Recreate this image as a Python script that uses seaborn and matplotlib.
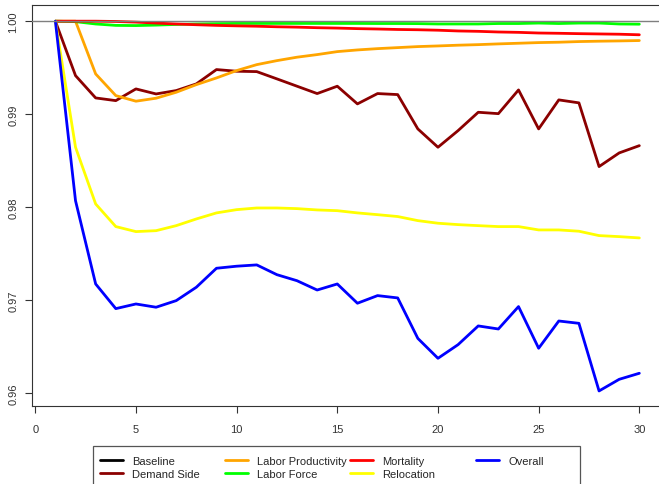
import matplotlib
matplotlib.use("Agg")
import matplotlib.pyplot as plt
import seaborn as sns
import pandas as pd
from matplotlib.lines import Line2D
from matplotlib.patches import Rectangle

# Simulation years
years = list(range(1, 31))

baseline = [1.0] * 30

demand_side = [1.0, 0.99415, 0.99175, 0.99146, 0.99272, 0.99218, 0.99254, 0.99326,
               0.9948, 0.99462, 0.99458, 0.9938, 0.99301, 0.99222, 0.99301, 0.99111,
               0.99222, 0.99211, 0.98842, 0.98645, 0.98824, 0.99021, 0.99006, 0.99261,
               0.98842, 0.99154, 0.99122, 0.98437, 0.98584, 0.98662]

labor_productivity = [1.0, 1.0, 0.99433, 0.992, 0.9914, 0.99172, 0.99236, 0.99318,
                      0.9939, 0.99469, 0.99533, 0.99576, 0.99613, 0.99641, 0.99673,
                      0.99691, 0.99705, 0.99716, 0.99727, 0.99734, 0.99742, 0.99748,
                      0.99756, 0.99763, 0.9977, 0.99774, 0.99781, 0.99785, 0.99788,
                      0.99792]

labor_force = [1.0, 0.99995, 0.9997, 0.99955, 0.99953, 0.99958, 0.99965, 0.9997,
               0.99974, 0.99976, 0.99976, 0.99976, 0.99976, 0.99976, 0.99976, 0.99976,
               0.99975, 0.99975, 0.99974, 0.9997, 0.9997, 0.9997, 0.99975, 0.99975,
               0.9998, 0.99975, 0.9998, 0.9998, 0.9997, 0.99968]

mortality = [1.0, 1.0, 1.0, 0.99997, 0.9999, 0.9998, 0.9997, 0.99962, 0.99955,
             0.9995, 0.99946, 0.9994, 0.99936, 0.9993, 0.99926, 0.9992, 0.99916,
             0.99911, 0.99908, 0.99903, 0.99895, 0.99891, 0.99884, 0.9988, 0.99873,
             0.9987, 0.99866, 0.99863, 0.9986, 0.99854]

relocation = [1.0, 0.98645, 0.98035, 0.97792, 0.97738, 0.97748, 0.97802, 0.97874,
              0.97939, 0.97974, 0.97992, 0.97992, 0.97985, 0.97971, 0.97963, 0.97939,
              0.9792, 0.979, 0.97856, 0.97828, 0.97813, 0.97802, 0.97792, 0.97792,
              0.97756, 0.97756, 0.97742, 0.97695, 0.97684, 0.9767]

overall = [1.0, 0.9807, 0.97175, 0.9691, 0.9696, 0.96925, 0.96996, 0.9714, 0.97344,
           0.97366, 0.9738, 0.97275, 0.9721, 0.9711, 0.97175, 0.96968, 0.9705,
           0.97025, 0.9659, 0.96376, 0.96523, 0.96724, 0.96691, 0.96932, 0.96484,
           0.96777, 0.96752, 0.96025, 0.9615, 0.96215]

series_names = ["Baseline", "Demand Side", "Labor Productivity", "Labor Force",
                "Mortality", "Relocation", "Overall"]
series_values = [baseline, demand_side, labor_productivity, labor_force,
                 mortality, relocation, overall]
series_colors = ["black", "#8B0000", "#FFA500", "#00FF00", "#FF0000", "#FFFF00", "#0000FF"]

y_ticks = [0.96, 0.97, 0.98, 0.99, 1.00]
y_ticklabels = ["0.96", "0.97", "0.98", "0.99", "1.00"]
x_ticks = [0, 5, 10, 15, 20, 25, 30]

sns.set_style("white")
plt.rcParams["font.family"] = ["Liberation Sans", "DejaVu Sans"]

df = pd.DataFrame({"year": years * len(series_names),
                   "value": sum(series_values, []),
                   "series": sum([[n] * len(years) for n in series_names], [])})

fig = plt.figure(figsize=(6.59, 4.85), dpi=100)
ax = fig.add_axes([0.0486, 0.1608, 0.99, 0.827])

palette = dict(zip(series_names, series_colors))
plot_df = df[df["series"] != "Baseline"]
sns.lineplot(data=plot_df, x="year", y="value", hue="series",
             hue_order=series_names[1:], palette=palette, linewidth=2.0,
             legend=False, ax=ax, sort=False)

# baseline reference level
ax.axhline(baseline[0], color="#7f7f7f", linewidth=1.0, zorder=5)

ax.set_xlim(-0.16, 32.24)
ax.set_ylim(0.95863, 1.00175)
ax.set_xticks(x_ticks)
ax.set_xticklabels([str(t) for t in x_ticks])
ax.set_yticks(y_ticks)
ax.set_yticklabels(y_ticklabels, rotation=90, va="center")
ax.set_xlabel("")
ax.set_ylabel("")
ax.tick_params(axis="both", labelsize=8, colors="#333333", length=5, width=0.8,
               direction="out")
ax.tick_params(axis="x", pad=8)
ax.tick_params(axis="y", pad=5)
ax.tick_params(axis="y", left=True)
ax.tick_params(axis="x", bottom=True)
for s in ax.spines.values():
    s.set_color("#333333")
    s.set_linewidth(0.8)

# legend box with four equally spaced columns
fig.patches.append(Rectangle((93 / 659, -0.02), (580 - 93) / 659, 0.02 + (485 - 447) / 485,
                             transform=fig.transFigure, fill=False,
                             edgecolor="#555555", linewidth=0.9))
columns = [[0, 1], [2, 3], [4, 5], [6]]
col_x = [100, 225, 350, 476]
for cols, cx in zip(columns, col_x):
    handles = [Line2D([0], [0], color=series_colors[i], linewidth=2.0) for i in cols]
    labels = [series_names[i] for i in cols]
    fig.legend(handles, labels, loc="upper left",
               bbox_to_anchor=(cx / 659, 1 - 457 / 485),
               frameon=False, fontsize=8, handlelength=2.1, handletextpad=0.8,
               labelspacing=0.3, borderpad=0, borderaxespad=0)

fig.savefig("out.png", dpi=100)
